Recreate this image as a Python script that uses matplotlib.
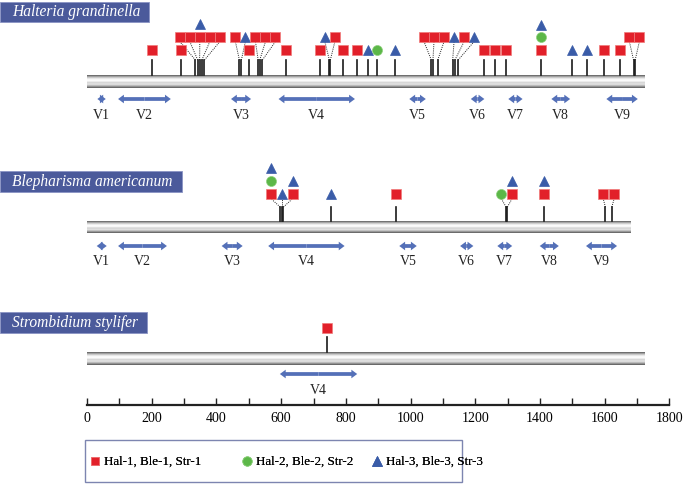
import numpy as np
import matplotlib.pyplot as plt
from matplotlib.lines import Line2D
from matplotlib.patches import Rectangle
from matplotlib.transforms import blended_transform_factory, IdentityTransform

plt.rcParams['font.family'] = ['Liberation Serif', 'DejaVu Serif']

# sequence lengths (nt)
hal_len = 1722
ble_len = 1681
str_len = 1722

# mutation sites: position, marker types (s = type 1, c = type 2, t = type 3),
# cluster id (0 = stand-alone site, otherwise sites drawn with fanned markers)
hal_pos = [201, 289, 335, 342, 348, 355, 363, 471, 477, 502, 529, 534, 542,
           616, 720, 749, 752, 790, 835, 869, 895, 953, 1064, 1069, 1084,
           1130, 1137, 1147, 1228, 1262, 1294, 1403, 1499, 1545, 1599, 1648,
           1689, 1694]
hal_types = ['s', 's', 's', 's', 'st', 's', 's', 's', 't', 's', 's', 's', 's',
             's', 's', 't', 's', 's', 's', 't', 'c', 't', 's', 's', 's',
             't', 's', 't', 's', 's', 's', 'sct', 't', 't', 's', 's',
             's', 's']
hal_cluster = [0, 0, 1, 1, 1, 1, 1, 2, 2, 0, 3, 3, 3,
               0, 0, 4, 4, 0, 0, 0, 0, 0, 5, 5, 5,
               6, 6, 6, 0, 0, 0, 0, 0, 0, 0, 0,
               7, 7]

ble_pos = [597, 602, 607, 753, 956, 1295, 1299, 1412, 1602, 1622]
ble_types = ['sct', 't', 'st', 't', 's', 'c', 'st', 'st', 's', 's']
ble_cluster = [1, 1, 1, 0, 0, 2, 2, 0, 3, 3]

str_pos = [742]
str_types = ['s']
str_cluster = [0]

# variable regions
v_names = ['V1', 'V2', 'V3', 'V4', 'V5', 'V6', 'V7', 'V8', 'V9']
hal_v_start = [32, 96, 445, 592, 996, 1186, 1302, 1435, 1605]
hal_v_end = [58, 259, 507, 828, 1047, 1228, 1346, 1493, 1702]
ble_v_start = [30, 96, 416, 560, 965, 1153, 1268, 1399, 1542]
ble_v_end = [61, 247, 481, 796, 1019, 1194, 1314, 1458, 1638]
str_v_names = ['V4']
str_v_start = [596]
str_v_end = [835]

legend_labels = ['Hal-1, Ble-1, Str-1', 'Hal-2, Ble-2, Str-2', 'Hal-3, Ble-3, Str-3']

colors = {'s': '#e2202a', 'c': '#5cb748', 't': '#3a5ca8'}
edges = {'s': '#f07a7a', 'c': '#8fd07e', 't': '#3a5ca8'}
markers = {'s': 's', 'c': 'o', 't': '^'}
msizes = {'s': 6.8, 'c': 7.2, 't': 7.6}
arrow_col = '#5470b8'
box_col = '#4b5a9b'

fig = plt.figure(figsize=(6.84, 4.86), dpi=100)
ax = fig.add_axes([0, 0, 1, 1])
scale = 0.3236  # px per nt
xlim = (-87 / scale, (684 - 87) / scale)
ax.set_xlim(*xlim)
ax.set_ylim(486, 0)
ax.axis('off')
trans = blended_transform_factory(IdentityTransform(), ax.transData)

# bar shading (cylinder look)
shade = np.array([0.42, 0.6, 0.76, 0.88, 0.96, 1.0, 0.97, 0.88, 0.82,
                  0.9, 0.84, 0.7, 0.55, 0.4])[:, None]

arrow_style = 'simple,head_length=0.42,head_width=0.62,tail_width=0.27'


def draw_stack(x, y0, types, dy):
    for k, t in enumerate(sorted(types, key='sct'.index)):
        ax.plot(x, y0 - k * dy, ls='none', marker=markers[t], ms=msizes[t],
                color=colors[t], mec=edges[t], mew=0.5, zorder=5)


def draw_track(name, length, pos, types, cluster, vs, ve, vn, lay):
    # title box
    top, bot = lay['box']
    t = ax.text(12, (top + bot) / 2 + 0.5, name, transform=trans, color='white',
                style='italic', fontsize=11.2, va='center', ha='left', zorder=6)
    lay['title'] = t

    # sequence bar
    ax.imshow(shade, extent=(0, length, lay['bar'][1], lay['bar'][0]),
              cmap='gray', vmin=0, vmax=1, aspect='auto', origin='upper',
              interpolation='bilinear', zorder=2)

    # stems
    for p in pos:
        ax.plot([p, p], [lay['bar'][0], lay['stem']], color='#1a1a1a', lw=1.2,
                zorder=3)

    # stand-alone sites
    for p, ty, c in zip(pos, types, cluster):
        if c == 0:
            draw_stack(p, lay['row'], ty, lay['dy'])

    # clustered sites: fan markers out, keep them from overlapping
    sp = lay['sp']
    groups = []
    for c in sorted(set(cluster) - {0}):
        idx = [i for i, cc in enumerate(cluster) if cc == c]
        idx.sort(key=lambda i: pos[i])
        ctr = np.mean([pos[i] for i in idx])
        xs = ctr + (np.arange(len(idx)) - (len(idx) - 1) / 2) * sp
        groups.append((ctr, idx, xs))
    groups.sort(key=lambda g: g[0])
    prev = -np.inf
    for ctr, idx, xs in groups:
        if xs[0] < prev + sp:
            xs = xs + (prev + sp - xs[0])
        prev = xs[-1]
        for i, x in zip(idx, xs):
            ax.plot([pos[i], x], [lay['stem'], lay['up'] + 4.5], color='#222222',
                    ls=(0, (1, 1.2)), lw=0.7, zorder=3)
            draw_stack(x, lay['up'], types[i], lay['dy'])

    # variable regions: two half arrows from the middle outwards
    for s, e, n in zip(vs, ve, vn):
        m = (s + e) / 2
        for end in (s, e):
            ax.annotate('', xy=(end, lay['arrow']), xytext=(m, lay['arrow']),
                        arrowprops=dict(arrowstyle=arrow_style, fc=arrow_col,
                                        ec='none', lw=0, mutation_scale=10,
                                        shrinkA=0, shrinkB=0), zorder=3)
        ax.text(m, lay['label'], n, ha='center', va='center',
                fontsize=10, color='#222222')


hal_lay = dict(box=(2, 22), bar=(75, 88), stem=60, row=50, up=37, dy=12.5, sp=31,
               arrow=99, label=115)
ble_lay = dict(box=(171, 192), bar=(221, 233), stem=207, row=194, up=194, dy=13, sp=34,
               arrow=246, label=261)
str_lay = dict(box=(312, 333), bar=(352, 365), stem=337, row=328, up=328, dy=13, sp=34,
               arrow=374, label=390)

draw_track('Halteria grandinella', hal_len, hal_pos, hal_types, hal_cluster,
           hal_v_start, hal_v_end, v_names, hal_lay)
draw_track('Blepharisma americanum', ble_len, ble_pos, ble_types, ble_cluster,
           ble_v_start, ble_v_end, v_names, ble_lay)
draw_track('Strombidium stylifer', str_len, str_pos, str_types, str_cluster,
           str_v_start, str_v_end, str_v_names, str_lay)

ax.set_xlim(*xlim)
ax.set_ylim(486, 0)

# title boxes sized to their text
fig.canvas.draw()
for lay in (hal_lay, ble_lay, str_lay):
    bb = lay['title'].get_window_extent()
    top, bot = lay['box']
    ax.add_patch(Rectangle((0, top), bb.x1 + 9, bot - top, transform=trans,
                           fc=box_col, ec='#8a94c4', lw=0.6, zorder=5))

# length ruler
axr = fig.add_axes([0, (486 - 405) / 486, 1, 0.03])
axr.set_xlim(*xlim)
axr.set_ylim(0, 1)
axr.patch.set_visible(False)
for s in ('top', 'left', 'right'):
    axr.spines[s].set_visible(False)
axr.spines['bottom'].set_bounds(0, 1800)
axr.spines['bottom'].set_linewidth(1.6)
axr.spines['bottom'].set_color('#222222')
axr.set_xticks(range(0, 1801, 200))
axr.set_xticks(range(100, 1800, 200), minor=True)
axr.tick_params(which='both', direction='in', length=5, width=1, color='#222222',
                labelsize=10, pad=5)
axr.set_yticks([])

# legend: one entry per column, placed like the original
leg_x = [90, 242, 372]
for k, lab, x in zip('sct', legend_labels, leg_x):
    h = Line2D([], [], ls='none', marker=markers[k], ms=msizes[k] - 0.4,
               color=colors[k], mec=edges[k], mew=0.5)
    leg = fig.legend([h], [lab], loc='center left',
                     bbox_to_anchor=(x / 684, 1 - 462 / 486), frameon=False,
                     fontsize=9.4, handlelength=0.8, handletextpad=0.3,
                     borderpad=0, borderaxespad=0)
    fig.add_artist(leg)
ax.add_patch(Rectangle((85, 440), 377, 42, transform=trans, fc='none',
                       ec='#7d85b0', lw=1, zorder=5))

fig.savefig('out.png', dpi=100)
